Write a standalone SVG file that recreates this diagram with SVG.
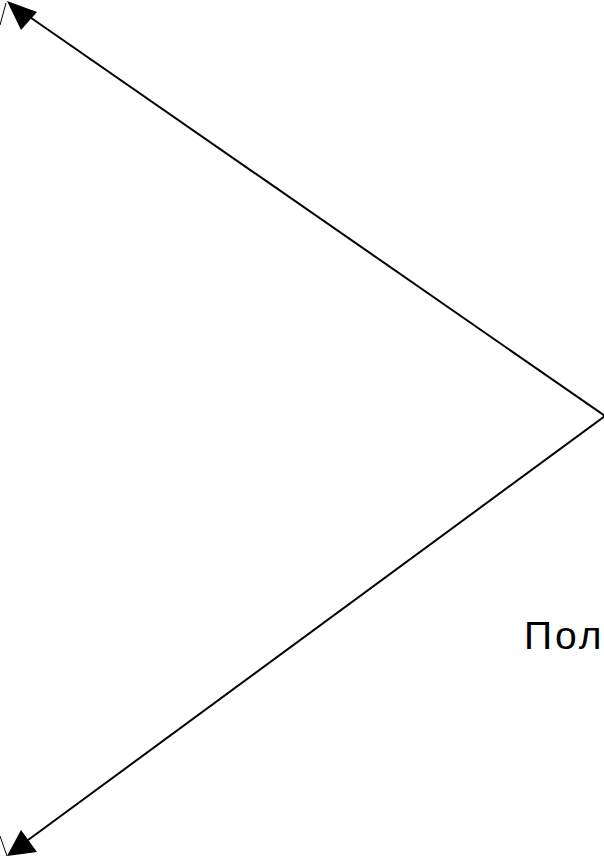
<svg xmlns="http://www.w3.org/2000/svg" width="604" height="858" viewBox="0 0 604 858">
<style>
.c{stroke:#000;stroke-width:2;fill:none}
.t{stroke:#000;stroke-width:1;fill:none}
.lbl{font-family:"Liberation Sans",Arial,sans-serif;font-size:39px;letter-spacing:3px;fill:#000}
</style>
<rect width="604" height="858" fill="#fff"/>
<g id="connectors">
<line class="c" x1="605" y1="416" x2="24" y2="13"/>
<line class="c" x1="605" y1="416" x2="24" y2="843"/>
<polygon points="7,1 37,12 21,30" fill="#000"/>
<polygon points="7,856 21,830 37,852" fill="#000"/>
<line class="t" x1="0" y1="25" x2="6" y2="3"/>
<line class="t" x1="0" y1="836" x2="7" y2="856"/>
</g>
<g id="label">
<text class="lbl" x="524" y="649">Пол</text>
</g>
</svg>
